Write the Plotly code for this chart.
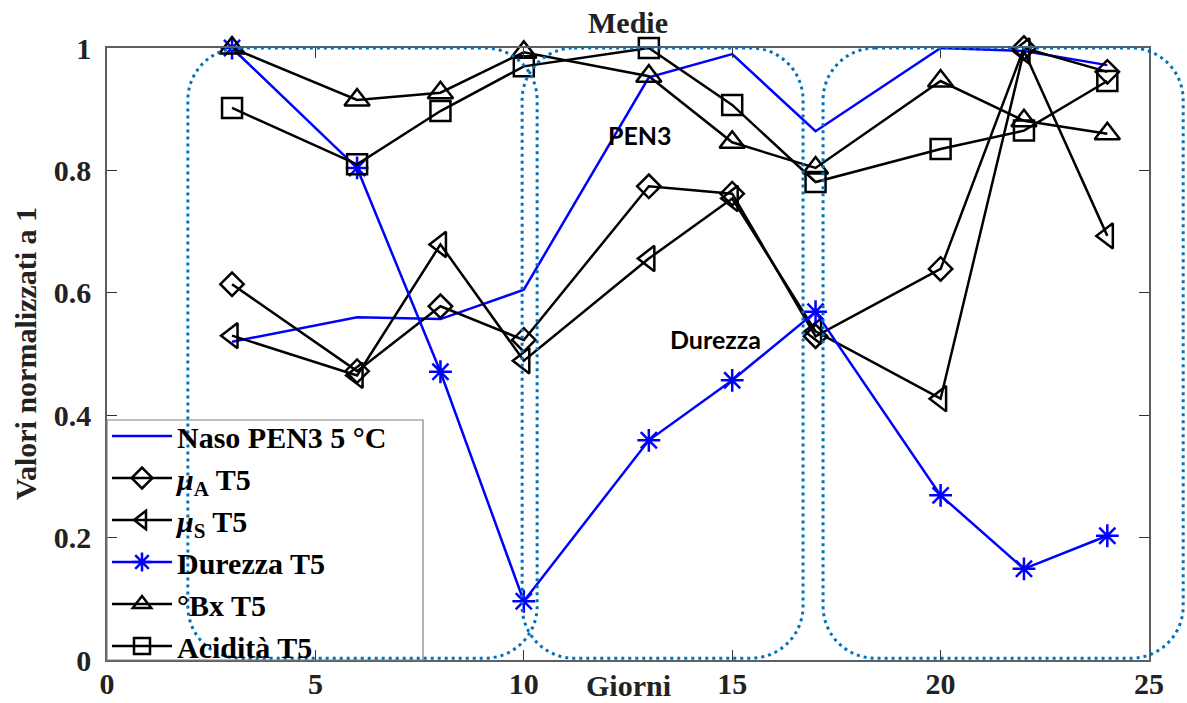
import plotly.graph_objects as go

# Sampling days and normalised means
giorni = [3, 6, 8, 10, 13, 15, 17, 20, 22, 24]
naso_pen3 = [0.52, 0.56, 0.557, 0.605, 0.952, 0.99, 0.864, 1.0, 0.995, 0.972]
mu_a = [0.614, 0.472, 0.578, 0.523, 0.774, 0.762, 0.529, 0.639, 1.0, 0.961]
mu_s = [0.53, 0.465, 0.679, 0.489, 0.656, 0.754, 0.537, 0.427, 0.995, 0.693]
durezza = [1.0, 0.804, 0.471, 0.096, 0.359, 0.457, 0.569, 0.269, 0.149, 0.203]
brix = [1.0, 0.915, 0.927, 0.993, 0.954, 0.846, 0.804, 0.946, 0.881, 0.86]
acidita = [0.902, 0.81, 0.897, 0.97, 1.0, 0.907, 0.781, 0.835, 0.865, 0.946]

x_ticks = [0, 5, 10, 15, 20, 25]
y_ticks = [0, 0.2, 0.4, 0.6, 0.8, 1]
y_ticktext = ["0", "0.2", "0.4", "0.6", "0.8", "1"]

# Day windows highlighted with rounded dotted frames (start, end)
finestre = [(1.94, 10.32), (9.96, 16.70), (17.18, 25.82)]

W, H = 1187, 703
ML, MR, MT, MB = 107, 38, 48, 43
X_RANGE = (0, 25)
Y_RANGE = (0, 1)
plot_w = W - ML - MR
plot_h = H - MT - MB

SERIF = "Liberation Serif, Times New Roman, serif"
SANS = "Lato, Noto Sans, sans-serif"
BLUE = "#0000FF"
FRAME = "#0072BD"

fig = go.Figure()

fig.add_trace(go.Scatter(
    x=giorni, y=naso_pen3, mode="lines", name="Naso PEN3 5 °C",
    line=dict(color=BLUE, width=2.5), cliponaxis=False))

def black_series(y, name, symbol, size):
    return go.Scatter(
        x=giorni, y=y, mode="lines+markers", name=name,
        line=dict(color="black", width=2.5),
        marker=dict(symbol=symbol, size=size, color="black",
                    line=dict(color="black", width=2.5)),
        cliponaxis=False)

fig.add_trace(black_series(mu_a, "<i>μ</i><sub>A</sub> T5", "diamond-open", 18))
fig.add_trace(black_series(mu_s, "<i>μ</i><sub>S</sub> T5", "triangle-left-open", 22))
fig.add_trace(go.Scatter(
    x=giorni, y=durezza, mode="lines+markers", name="Durezza T5",
    line=dict(color=BLUE, width=2.5),
    marker=dict(symbol="asterisk-open", size=19, color=BLUE,
                line=dict(color=BLUE, width=2.5)),
    cliponaxis=False))
fig.add_trace(black_series(brix, "°Bx T5", "triangle-up-open", 22))
fig.add_trace(black_series(acidita, "Acidità T5", "square-open", 20))

# Rounded dotted frames, expressed in paper coordinates so they may
# run past the right edge of the axes
K = 0.5523
rx = 52 / plot_w
ry = 52 / plot_h

def to_px(xd):
    return (xd - X_RANGE[0]) / (X_RANGE[1] - X_RANGE[0])

def to_py(yd):
    return (yd - Y_RANGE[0]) / (Y_RANGE[1] - Y_RANGE[0])

def rounded(x0, x1, y0, y1):
    return (
        f"M {x0+rx},{y1} L {x1-rx},{y1} "
        f"C {x1-rx+K*rx},{y1} {x1},{y1-ry+K*ry} {x1},{y1-ry} "
        f"L {x1},{y0+ry} "
        f"C {x1},{y0+ry-K*ry} {x1-rx+K*rx},{y0} {x1-rx},{y0} "
        f"L {x0+rx},{y0} "
        f"C {x0+rx-K*rx},{y0} {x0},{y0+ry-K*ry} {x0},{y0+ry} "
        f"L {x0},{y1-ry} "
        f"C {x0},{y1-ry+K*ry} {x0+rx-K*rx},{y1} {x0+rx},{y1} Z"
    )

# Legend frame (drawn as a shape so its size can be set exactly)
shapes = [dict(
    type="rect", xref="paper", yref="paper", layer="above",
    x0=0, x1=316 / plot_w, y0=0, y1=240 / plot_h,
    line=dict(color="#7f7f7f", width=1.2), fillcolor="rgba(0,0,0,0)")]

for a, b in finestre:
    shapes.append(dict(
        type="path", xref="paper", yref="paper", layer="above",
        path=rounded(to_px(a), to_px(b), to_py(0.003), to_py(1.0)),
        line=dict(color=FRAME, width=3, dash="3px,4px")))

annotations = [
    dict(text="PEN3", x=12.79, y=0.858, xref="x", yref="y", showarrow=False,
         font=dict(family=SANS, size=25, color="black", weight="bold")),
    dict(text="Durezza", x=14.61, y=0.525, xref="x", yref="y", showarrow=False,
         font=dict(family=SANS, size=25, color="black", weight="bold")),
    dict(text="Giorni", x=0.5, y=-25 / plot_h, xref="paper", yref="paper",
         showarrow=False, xanchor="center", yanchor="middle",
         font=dict(family=SERIF, size=30, color="#222", weight="bold")),
    dict(text="Valori normalizzati a 1", x=-(ML - 25) / plot_w, y=0.5,
         xref="paper", yref="paper", showarrow=False, textangle=-90,
         xanchor="center", yanchor="middle",
         font=dict(family=SERIF, size=30, color="#222", weight="bold")),
]

axis_common = dict(
    showgrid=False, zeroline=False, showline=True, linecolor="#5f5f5f",
    linewidth=1.5, mirror="ticks", ticks="inside", ticklen=10,
    tickcolor="#333", tickwidth=1.2, automargin=False,
    tickfont=dict(family=SERIF, size=30, color="#222", weight="bold"),
)

fig.update_layout(
    width=W, height=H,
    margin=dict(l=ML, r=MR, t=MT, b=MB, autoexpand=False),
    paper_bgcolor="white", plot_bgcolor="white",
    title=dict(text="Medie", x=0.5, xref="paper", xanchor="center",
               y=1 - 22 / H, yref="container", yanchor="middle",
               font=dict(family=SERIF, size=30, color="#222", weight="bold")),
    xaxis=dict(range=list(X_RANGE), tickvals=x_ticks, ticklabelstandoff=-4,
               **axis_common),
    yaxis=dict(range=list(Y_RANGE), tickvals=y_ticks, ticktext=y_ticktext,
               ticklabelstandoff=8, **axis_common),
    legend=dict(x=0, y=-12 / plot_h, xanchor="left", yanchor="bottom",
                bgcolor="rgba(0,0,0,0)", borderwidth=0,
                font=dict(family=SERIF, size=30, color="black", weight="bold"),
                itemwidth=60, tracegroupgap=0, traceorder="normal"),
    shapes=shapes,
    annotations=annotations,
    showlegend=True,
)

fig.write_html("out.html")
